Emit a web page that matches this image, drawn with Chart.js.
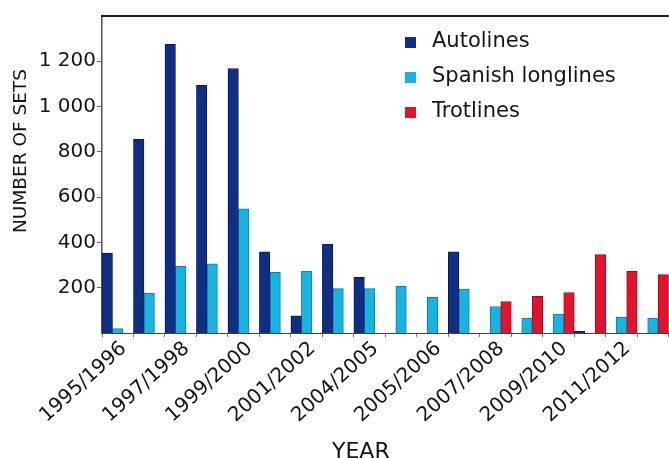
<!DOCTYPE html>
<html>
<head>
<meta charset="utf-8">
<script src="https://cdn.jsdelivr.net/npm/chart.js@4/dist/chart.umd.min.js"></script>
<style>
  html, body { margin: 0; padding: 0; background: #ffffff; }
  #wrap { position: relative; width: 669px; height: 458px; }
</style>
</head>
<body>
<div id="wrap"><canvas id="c" width="669" height="458"></canvas></div>
<script>
// ---- data ----
const seasons = [
  "1995/1996","1996/1997","1997/1998","1998/1999","1999/2000","2000/2001",
  "2001/2002","2002/2003","2003/2004","2004/2005","2005/2006","2006/2007",
  "2007/2008","2008/2009","2009/2010","2010/2011","2011/2012","2012/2013"
];
// labels printed under every second group in the reference
const tickLabels = [
  "1995/1996","1997/1998","1999/2000","2001/2002","2004/2005",
  "2005/2006","2007/2008","2009/2010","2011/2012"
];
const autolines        = [353, 855, 1275, 1094, 1168, 358, 76, 393, 246, 0, 0, 358, 0, 0, 0, 7, 0, 0];
const spanishLonglines = [20, 176, 294, 305, 548, 268, 272, 196, 196, 206, 157, 194, 117, 66, 84, 0, 70, 66];
const trotlines        = [0, 0, 0, 0, 0, 0, 0, 0, 0, 0, 0, 0, 139, 162, 179, 346, 272, 258];
const yTicks = [200, 400, 600, 800, 1000, 1200];

const FONT = "'DejaVu Sans', Arial, sans-serif";
const TEXT = "#151515";

function fmtThousands(v) {
  if (v >= 1000) return Math.floor(v / 1000) + " " + String(v % 1000).padStart(3, "0");
  return String(v);
}

const frameAndLegend = {
  id: "frameAndLegend",
  afterDraw(chart) {
    const { ctx, chartArea } = chart;
    ctx.save();
    // top frame line
    ctx.strokeStyle = "#1e1e1e";
    ctx.lineWidth = 2;
    ctx.beginPath();
    ctx.moveTo(chartArea.left - 1, chartArea.top);
    ctx.lineTo(chartArea.right, chartArea.top);
    ctx.stroke();
    // legend inside the plot
    const x0 = 405, rows = [42, 77, 112];
    ctx.font = "21px " + FONT;
    ctx.textBaseline = "middle";
    ctx.textAlign = "left";
    chart.data.datasets.forEach((ds, i) => {
      const y = rows[i];
      ctx.fillStyle = ds.backgroundColor;
      ctx.fillRect(x0, y - 5, 11, 11);
      ctx.fillStyle = TEXT;
      ctx.fillText(ds.label, x0 + 27, y);
    });
    ctx.restore();
  }
};

new Chart(document.getElementById("c"), {
  type: "bar",
  data: {
    labels: seasons,
    datasets: [
      { label: "Autolines", data: autolines, backgroundColor: "#0f2f86", borderColor: "#0a1c50", borderWidth: 1 },
      { label: "Spanish longlines", data: spanishLonglines, backgroundColor: "#17b4e2", borderColor: "#0f7fa6", borderWidth: 1 },
      { label: "Trotlines", data: trotlines, backgroundColor: "#e4122a", borderColor: "#9a0c1c", borderWidth: 1 }
    ]
  },
  options: {
    responsive: false,
    animation: false,
    devicePixelRatio: 1,
    layout: { padding: { top: 16, right: 0, bottom: 0, left: 0 } },
    datasets: { bar: { categoryPercentage: 1.0, barPercentage: 1.0 } },
    plugins: { legend: { display: false }, tooltip: { enabled: false } },
    scales: {
      x: {
        offset: true,
        grid: { offset: true, drawOnChartArea: false, drawTicks: true, tickLength: 4, color: "#777777" },
        border: { display: true, color: "#444444", width: 1 },
        ticks: {
          autoSkip: false,
          minRotation: 42,
          maxRotation: 42,
          padding: 0,
          labelOffset: 6,
          color: TEXT,
          font: { family: FONT, size: 20 },
          callback: (v, i) => (i % 2 === 0 ? tickLabels[i / 2] : "")
        },
        title: {
          display: true,
          text: "YEAR" + "       ",
          color: TEXT,
          font: { family: FONT, size: 22, lineHeight: 0.5 },
          padding: { top: 0, bottom: 0 }
        },
        afterFit: (s) => { s.height = 125; }
      },
      y: {
        min: 0,
        max: 1400,
        grid: { drawOnChartArea: false, drawTicks: true, tickLength: 5, color: "#666666" },
        border: { display: true, color: "#555555", width: 1.5 },
        ticks: {
          stepSize: 200,
          padding: 1,
          color: TEXT,
          font: { family: FONT, size: 20 },
          callback: (v) => fmtThousands(v)
        },
        afterBuildTicks: (s) => { s.ticks = yTicks.map(v => ({ value: v })); },
        title: {
          display: true,
          text: "        " + "NUMBER OF SETS",
          color: TEXT,
          font: { family: FONT, size: 18.5 },
          padding: { top: 10, bottom: 0 }
        },
        afterFit: (s) => { s.width = 102; }
      }
    }
  },
  plugins: [frameAndLegend]
});
</script>
</body>
</html>
